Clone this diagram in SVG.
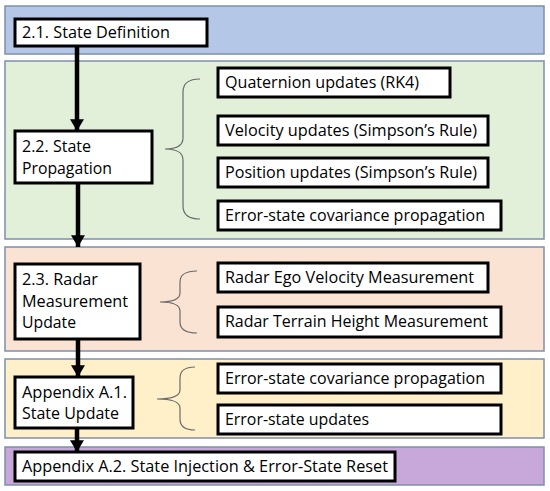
<svg xmlns="http://www.w3.org/2000/svg" width="550" height="491" viewBox="0 0 550 491">
<style>
.band{stroke:#7F8FA9;stroke-width:1.5}
.box{fill:#fff;stroke:#000;stroke-width:3}
.t{font-family:"Open Sans","Liberation Sans",sans-serif;font-size:16px;fill:#000}
.brace{fill:none;stroke:#6b6b6b;stroke-width:1.2}
.arr{stroke:#000;stroke-width:4.5;fill:none}
</style>
<defs>
<marker id="ah" viewBox="0 0 10 10" refX="10" refY="5" markerWidth="2.6" markerHeight="3.1" markerUnits="strokeWidth" orient="auto" preserveAspectRatio="none">
<path d="M0,0 L10,5 L0,10 Z" fill="#000"/>
</marker>
</defs>
<g id="bands">
<rect class="band" x="5" y="6" width="539" height="48" fill="#B4C7E7"/>
<rect class="band" x="5" y="61" width="539" height="178" fill="#E2F0D9"/>
<rect class="band" x="5" y="247" width="539" height="104" fill="#FBE3D4"/>
<rect class="band" x="5" y="359" width="539" height="79" fill="#FFF0C9"/>
<rect class="band" x="5" y="447" width="539" height="38" fill="#C8A8DA"/>
</g>
<g id="connectors">
<line class="arr" x1="77" y1="46" x2="77" y2="131" marker-end="url(#ah)"/>
<line class="arr" x1="78" y1="183" x2="78" y2="247" marker-end="url(#ah)"/>
<line class="arr" x1="78" y1="339" x2="78" y2="377" marker-end="url(#ah)"/>
<line class="arr" x1="77" y1="428" x2="77" y2="452" marker-end="url(#ah)"/>
<path class="brace" d="M200,79 Q183,79 183,92 L183,138 Q183,149 165,149 Q183,149 183,160 L183,206 Q183,219 200,219"/>
<path class="brace" d="M197,271 Q180,271 180,282 L180,293 Q180,302 160,302 Q180,302 180,311 L180,322 Q180,333 197,333"/>
<path class="brace" d="M195,367 Q180,367 180,378 L180,390 Q180,399 157,399 Q180,399 180,408 L180,419 Q180,430 195,430"/>
</g>
<g id="n21"><rect class="box" x="15" y="19" width="192" height="27"/><text class="t" x="22" y="38" textLength="148" lengthAdjust="spacingAndGlyphs">2.1. State Definition</text></g>
<g id="n22"><rect class="box" x="15" y="131" width="137" height="52"/><text class="t" x="22" y="152" textLength="69" lengthAdjust="spacingAndGlyphs">2.2. State</text><text class="t" x="22" y="174" textLength="90" lengthAdjust="spacingAndGlyphs">Propagation</text></g>
<g id="q"><rect class="box" x="218" y="68" width="232" height="29"/><text class="t" x="225" y="88" textLength="194" lengthAdjust="spacingAndGlyphs">Quaternion updates (RK4)</text></g>
<g id="v"><rect class="box" x="218" y="116" width="270" height="29"/><text class="t" x="225" y="136" textLength="252" lengthAdjust="spacingAndGlyphs">Velocity updates (Simpson’s Rule)</text></g>
<g id="p"><rect class="box" x="218" y="158" width="270" height="29"/><text class="t" x="225" y="178" textLength="252" lengthAdjust="spacingAndGlyphs">Position updates (Simpson’s Rule)</text></g>
<g id="ec1"><rect class="box" x="218" y="201" width="283" height="29"/><text class="t" x="225" y="221" textLength="260" lengthAdjust="spacingAndGlyphs">Error-state covariance propagation</text></g>
<g id="n23"><rect class="box" x="15" y="264" width="125" height="75"/><text class="t" x="22" y="285" textLength="76" lengthAdjust="spacingAndGlyphs">2.3. Radar</text><text class="t" x="22" y="307" textLength="106" lengthAdjust="spacingAndGlyphs">Measurement</text><text class="t" x="22" y="328" textLength="54" lengthAdjust="spacingAndGlyphs">Update</text></g>
<g id="rego"><rect class="box" x="218" y="263" width="270" height="29"/><text class="t" x="225" y="283" textLength="249" lengthAdjust="spacingAndGlyphs">Radar Ego Velocity Measurement</text></g>
<g id="rter"><rect class="box" x="218" y="307" width="283" height="30"/><text class="t" x="225" y="327" textLength="263" lengthAdjust="spacingAndGlyphs">Radar Terrain Height Measurement</text></g>
<g id="na1"><rect class="box" x="15" y="377" width="118" height="51"/><text class="t" x="22" y="398" textLength="105" lengthAdjust="spacingAndGlyphs">Appendix A.1.</text><text class="t" x="22" y="419" textLength="97" lengthAdjust="spacingAndGlyphs">State Update</text></g>
<g id="ec2"><rect class="box" x="218" y="364" width="283" height="29"/><text class="t" x="225" y="384" textLength="260" lengthAdjust="spacingAndGlyphs">Error-state covariance propagation</text></g>
<g id="eu"><rect class="box" x="218" y="405" width="283" height="29"/><text class="t" x="225" y="425" textLength="144" lengthAdjust="spacingAndGlyphs">Error-state updates</text></g>
<g id="na2"><rect class="box" x="15" y="452" width="380" height="29"/><text class="t" x="22" y="472" textLength="366" lengthAdjust="spacingAndGlyphs">Appendix A.2. State Injection &amp; Error-State Reset</text></g>
</svg>
